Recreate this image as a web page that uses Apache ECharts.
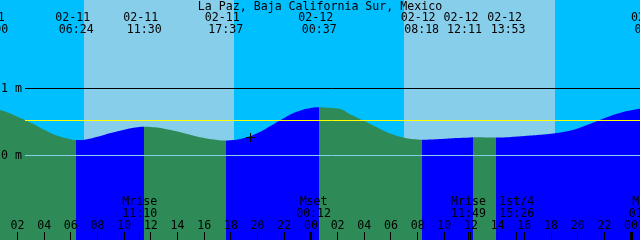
<!DOCTYPE html>
<html><head><meta charset="utf-8">
<script src="https://cdn.jsdelivr.net/npm/echarts/dist/echarts.min.js"></script>
<style>html,body{margin:0;padding:0;background:#00BFFF}#c{width:640px;height:240px}</style>
</head><body><div id="c"></div>
<script>
// ---------- data ----------
const title = "La Paz, Baja California Sur, Mexico";
// tide level (m) at hours counted from 02-11 00:00
const tideHours  = [-1,0,1,2,3,4,5,6,6.4,7,8,9,10,11,11.5,12,13,14,15,16,17,17.62,18,19,20,21,22,23,24,24.62,25,26,27,28,29,30,31,32,32.3,33,34,35,36,36.18,37,37.88,38,39,40,41,42,43,44,45,46,47,48,49,49.57];
const tideLevels = [0.745,0.71,0.66,0.58,0.49,0.385,0.295,0.243,0.231,0.237,0.28,0.335,0.385,0.42,0.429,0.426,0.40,0.358,0.307,0.262,0.232,0.223,0.226,0.26,0.335,0.445,0.56,0.655,0.708,0.719,0.716,0.70,0.61,0.515,0.415,0.325,0.265,0.238,0.235,0.238,0.25,0.262,0.27,0.271,0.27,0.269,0.269,0.278,0.292,0.307,0.325,0.355,0.405,0.478,0.556,0.626,0.675,0.705,0.712];
const eventTimes = ["02-11 00:00","02-11 06:24","02-11 11:30","02-11 17:37","02-12 00:37","02-12 08:18","02-12 12:11","02-12 13:53","02-13 01:34"];
const eventKinds = ["other","low","high","low","high","low","high","low","high"];
const moonTimes = ["02-11 11:10","02-12 00:12","02-12 11:49","02-12 15:26","02-13 01:08"];
const moonNames = ["Mrise","Mset","Mrise","1st/4","Mset"];
const dayStarts = ["02-11 06:59","02-12 06:58"];
const dayEnds   = ["02-11 18:14","02-12 18:17"];
const hourTicks  = [2,4,6,8,10,12,14,16,18,20,22,24,26,28,30,32,34,36,38,40,42,44,46,48];
const hourLabels = ["02","04","06","08","10","12","14","16","18","20","22","00","02","04","06","08","10","12","14","16","18","20","22","00"];
const levelLines  = [1, 0.522, 0];
const levelLabels = ["1 m", "", "0 m"];
const nowTime = "02-11 19:26";
const nowLevel = 0.272;

// ---------- layout / style ----------
const X_MIN = 0.69, X_MAX = 48.67, Y_MIN = -1.261, Y_MAX = 2.321;
const FONT = '11.6px "DejaVu Sans Mono", "Liberation Mono", monospace';
const labelShift = [0,0,0,0,0,0,-9,12,0];
const levelColors = ['#000000', '#FFFF00', '#87CEEB'];
const GREEN = '#2E8B57', BLUE = '#0000FF', NIGHT = '#00BFFF', DAY = '#87CEEB';

function toHours(s) {
  const [md, hm] = s.split(' ');
  const d = parseInt(md.split('-')[1], 10) - 11;
  const [H, M] = hm.split(':').map(Number);
  return d * 24 + H + M / 60;
}
function txt(x, y, text, align) {
  return { type: 'text', x: x, y: y, silent: true,
    style: { text: text, font: FONT, fill: '#000', align: align || 'center', verticalAlign: 'middle',
             textAlign: align || 'center', textVerticalAlign: 'middle' } };
}
function crisp(v) { return Math.floor(v) + 0.5; }

// visual pieces: rising after low (blue), falling after high (green)
const ext = eventTimes.map((t, i) => ({ h: toHours(t), k: eventKinds[i] })).filter(e => e.k !== 'other');
const pieces = [];
pieces.push({ lt: ext[0].h, color: ext[0].k === 'low' ? GREEN : BLUE });
for (let i = 0; i < ext.length; i++) {
  const p = { gte: ext[i].h, color: ext[i].k === 'low' ? BLUE : GREEN };
  if (i + 1 < ext.length) p.lt = ext[i + 1].h;
  pieces.push(p);
}

const chart = echarts.init(document.getElementById('c'), null, { renderer: 'canvas' });
const option = {
  animation: false,
  backgroundColor: NIGHT,
  title: { text: title, left: 'center', top: 1, padding: 0,
    textStyle: { fontFamily: '"DejaVu Sans Mono", "Liberation Mono", monospace', fontSize: 11.6, fontWeight: 'normal', color: '#000' } },
  grid: { left: 0, right: 0, top: 0, bottom: 0 },
  xAxis: { type: 'value', min: X_MIN, max: X_MAX, show: false },
  yAxis: { type: 'value', min: Y_MIN, max: Y_MAX, show: false },
  visualMap: { type: 'piecewise', show: false, dimension: 0, seriesIndex: 1, pieces: pieces },
  series: [
    { // daylight bands
      type: 'custom', z: 1, silent: true,
      data: dayStarts.map((s, i) => [toHours(s), toHours(dayEnds[i])]),
      encode: { x: [0, 1] },
      renderItem: function (params, api) {
        const a = api.coord([api.value(0), Y_MAX]);
        const b = api.coord([api.value(1), Y_MIN]);
        return { type: 'rect', shape: { x: Math.round(a[0]), y: a[1], width: Math.round(b[0]) - Math.round(a[0]), height: b[1] - a[1] },
                 style: { fill: DAY } };
      }
    },
    { // tide
      type: 'line', z: 2, silent: true, smooth: 0.5,
      showSymbol: false, symbol: 'none',
      data: tideHours.map((h, i) => [h, tideLevels[i]]),
      lineStyle: { width: 0 },
      areaStyle: { opacity: 1, origin: 'start' }
    },
    { // level lines
      type: 'custom', z: 3, silent: true,
      data: levelLines.map((v, i) => [X_MIN, v, i]),
      encode: { x: 0, y: 1 },
      renderItem: function (params, api) {
        const i = api.value(2);
        const y = crisp(api.coord([X_MIN, api.value(1)])[1]);
        const right = params.coordSys.x + params.coordSys.width;
        const ch = [{ type: 'line', shape: { x1: 25, y1: y, x2: right, y2: y }, style: { stroke: levelColors[i], lineWidth: 1 } }];
        if (levelLabels[i]) ch.push(txt(1, y, levelLabels[i], 'left'));
        return { type: 'group', children: ch };
      }
    },
    { // tide event labels (top)
      type: 'custom', z: 4, silent: true,
      data: eventTimes.map((t, i) => [toHours(t), 0, i]),
      encode: { x: 0, y: 1 },
      renderItem: function (params, api) {
        const i = api.value(2);
        const x = api.coord([api.value(0), 0])[0] + labelShift[i];
        const [md, hm] = eventTimes[i].split(' ');
        return { type: 'group', children: [txt(x - 3.5, 18, md), txt(x, 30, hm)] };
      }
    },
    { // moon events (bottom)
      type: 'custom', z: 4, silent: true,
      data: moonTimes.map((t, i) => [toHours(t), 0, i]),
      encode: { x: 0, y: 1 },
      renderItem: function (params, api) {
        const i = api.value(2);
        const x = api.coord([api.value(0), 0])[0];
        const B = params.coordSys.y + params.coordSys.height;
        const xc = crisp(x);
        return { type: 'group', children: [
          txt(x, B - 38, moonNames[i]), txt(x, B - 26.5, moonTimes[i].split(' ')[1]),
          { type: 'line', shape: { x1: xc, y1: B - 8, x2: xc, y2: B }, style: { stroke: '#000', lineWidth: 1 } }
        ] };
      }
    },
    { // hour ticks
      type: 'custom', z: 4, silent: true,
      data: hourTicks.map((h, i) => [h, 0, i]),
      encode: { x: 0, y: 1 },
      renderItem: function (params, api) {
        const i = api.value(2);
        const x = api.coord([api.value(0), 0])[0];
        const B = params.coordSys.y + params.coordSys.height;
        const midnight = hourLabels[i] === '00';
        const fx = Math.floor(x);
        const tick = midnight
          ? { type: 'rect', shape: { x: fx - 1, y: B - 8, width: 3, height: 8 }, style: { fill: '#000' } }
          : { type: 'rect', shape: { x: fx, y: B - 8, width: 1, height: 8 }, style: { fill: '#000' } };
        return { type: 'group', children: [txt(x, B - 14.5, hourLabels[i]), tick] };
      }
    },
    { // current-time cross
      type: 'custom', z: 5, silent: true,
      data: [[toHours(nowTime), nowLevel]],
      encode: { x: 0, y: 1 },
      renderItem: function (params, api) {
        const p = api.coord([api.value(0), api.value(1)]);
        const cx = Math.floor(p[0]), cy = Math.floor(p[1]);
        return { type: 'group', children: [
          { type: 'rect', shape: { x: cx - 4, y: cy, width: 9, height: 1 }, style: { fill: '#000' } },
          { type: 'rect', shape: { x: cx, y: cy - 4, width: 1, height: 9 }, style: { fill: '#000' } }
        ] };
      }
    }
  ]
};
chart.setOption(option);
</script>
</body></html>
